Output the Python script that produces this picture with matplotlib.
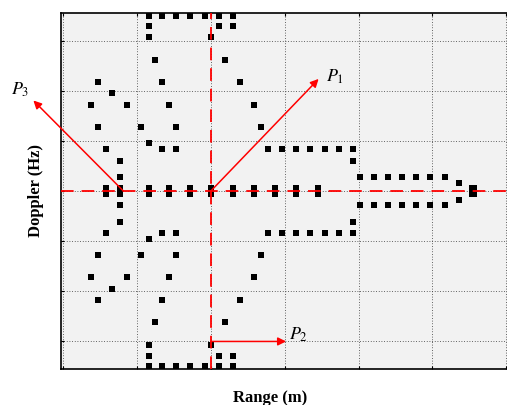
# Range-Doppler map with marked points P1, P2, P3
import matplotlib
matplotlib.use('Agg')
import matplotlib.pyplot as plt

# Serif fonts like the original figure
plt.rcParams['font.family'] = ['Liberation Serif', 'DejaVu Serif']
plt.rcParams['mathtext.fontset'] = 'stix'

# Single cells (x = range, y = doppler)
cell_x = [1.16, 1.34, 1.53, 1.72, 1.92, 2.11, 2.30,
          1.16, 2.11, 2.30,
          1.16, 2.00,
          1.25, 2.20,
          0.48, 1.34, 2.40,
          0.67,
          0.38, 0.87, 1.44, 2.58,
          0.48, 1.06, 1.53, 2.68,
          1.16,
          0.58, 1.34, 1.53, 2.78, 2.97, 3.16, 3.35, 3.54, 3.74, 3.93,
          0.77, 3.93,
          0.77, 4.02, 4.21, 4.40, 4.59, 4.78, 4.97, 5.17,
          5.36,
          5.36,
          0.77, 4.02, 4.21, 4.40, 4.59, 4.78, 4.97, 5.17,
          0.77, 3.93,
          0.58, 1.34, 1.53, 2.78, 2.97, 3.16, 3.35, 3.54, 3.74, 3.93,
          1.16,
          0.48, 1.06, 1.53, 2.68,
          0.38, 0.87, 1.44, 2.58,
          0.67,
          0.48, 1.34, 2.40,
          1.25, 2.20,
          1.16, 2.00,
          1.16, 2.11, 2.30,
          1.16, 1.34, 1.53, 1.72, 1.92, 2.11, 2.30]
cell_y = [3.50] * 7 + [3.29] * 3 + [3.07] * 2 + [2.61] * 2 + [2.18] * 3 + [1.95] + \
         [1.72] * 4 + [1.28] * 4 + [0.96] + [0.84] * 10 + [0.61] * 2 + [0.28] * 8 + [0.17] + \
         [-0.17] + [-0.28] * 8 + [-0.61] * 2 + [-0.84] * 10 + [-0.96] + [-1.28] * 4 + \
         [-1.72] * 4 + [-1.95] + [-2.18] * 3 + [-2.61] * 2 + [-3.07] * 2 + [-3.29] * 3 + [-3.50] * 7

# Cells on the zero-doppler line (drawn taller)
zero_x = [0.58, 0.77, 1.16, 1.44, 1.72, 2.00, 2.30, 2.58, 2.87, 3.16, 3.45]
zero_y = [0.0] * len(zero_x)
end_x = [5.55]
end_y = [0.0]

# Marked points: start of arrow, arrow tip, label position
p_names = ['$P_1$', '$P_2$', '$P_3$']
p_start = [(2.0, 0.0), (2.0, -3.0), (0.82, 0.0)]
p_tip = [(3.46, 2.24), (3.02, -3.0), (-0.40, 1.81)]
p_text = [(3.56, 2.19), (3.06, -2.97), (-0.70, 1.92)]

# Figure in pixels: 507 x 405 (axes run slightly past the right edge)
fig = plt.figure(figsize=(5.07, 4.05), dpi=100)
ax = fig.add_axes([60.7 / 507, 36 / 405, 449.3 / 507, 355.7 / 405])
ax.set_facecolor('#f2f2f2')

# Rectangular markers, a bit wider than tall
rect = [(-0.65, -0.5), (0.65, -0.5), (0.65, 0.5), (-0.65, 0.5), (-0.65, -0.5)]
tall = [(-0.3, -0.5), (0.3, -0.5), (0.3, 0.5), (-0.3, 0.5), (-0.3, -0.5)]
big = [(-0.34, -0.5), (0.34, -0.5), (0.34, 0.5), (-0.34, 0.5), (-0.34, -0.5)]
ax.plot(cell_x, cell_y, linestyle='none', marker=rect, markersize=5.0,
        color='black', markeredgewidth=0, zorder=3)
ax.plot(zero_x, zero_y, linestyle='none', marker=tall, markersize=8.0,
        color='black', markeredgewidth=0, zorder=3)
ax.plot(end_x, end_y, linestyle='none', marker=big, markersize=8.4,
        color='black', markeredgewidth=0, zorder=3)

# Red dashed cross through P1
ax.axvline(2.0, color='red', lw=1.3, linestyle=(0, (7, 4.4)), zorder=4)
ax.axhline(0.0, color='red', lw=1.3, linestyle=(0, (7, 4.4)), zorder=4)

# Arrows and labels
for name, s, t, lab in zip(p_names, p_start, p_tip, p_text):
    ax.annotate('', xy=t, xytext=s, annotation_clip=False,
                arrowprops=dict(arrowstyle='-|>', color='red', lw=1.1,
                                mutation_scale=12, shrinkA=0, shrinkB=0),
                zorder=5)
    ax.text(lab[0], lab[1], name, fontsize=13, ha='left', va='baseline',
            clip_on=False)

# Limits, ticks and grid
ax.set_xlim(-0.03, 6.05)
ax.set_ylim(-3.55, 3.55)
ax.set_xticks(range(0, 7))
ax.set_yticks(range(-3, 4))
ax.tick_params(direction='in', length=2.2, width=0.8, top=True,
               labelbottom=False, labelleft=False)
ax.grid(True, color='#333333', lw=0.6, linestyle=(0, (1, 2.2)))
for sp in ax.spines.values():
    sp.set_linewidth(1.2)

# Axis labels
ax.set_xlabel('Range (m)', fontsize=12, fontweight='bold')
ax.xaxis.set_label_coords(0.468 * 447.3 / 449.3, -0.059)
ax.set_ylabel('Doppler (Hz)', fontsize=12, fontweight='bold')
ax.yaxis.set_label_coords(-0.038, 0.503)

fig.savefig('out.png', dpi=100)
